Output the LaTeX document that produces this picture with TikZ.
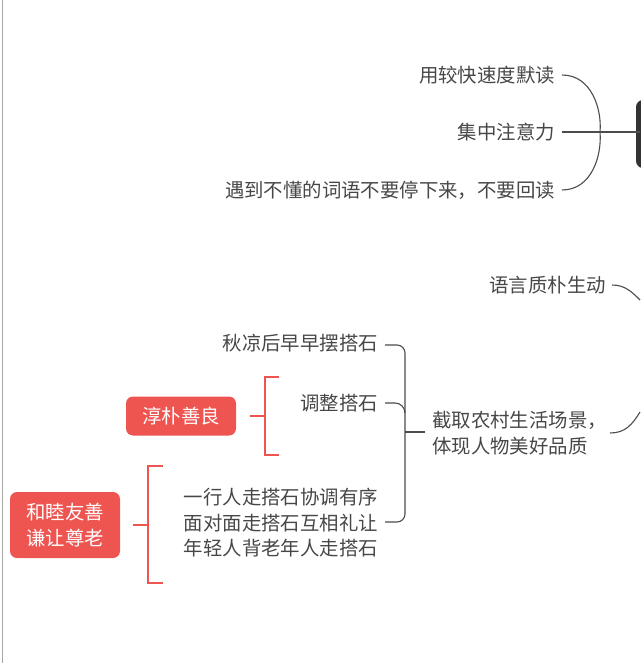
\documentclass[tikz,border=0pt]{standalone}
\usepackage{fontspec}
\setmainfont{Noto Sans CJK SC}
\begin{document}
\begin{tikzpicture}[x=1pt,y=-1pt,
  txt/.style={text=black!72,font=\fontsize{19.4}{22}\selectfont,inner sep=0pt},
  ln/.style={draw=black!70,line width=1.1pt},
  rl/.style={draw={rgb,255:red,238;green,84;blue,80},line width=2.2pt},
  rbox/.style={fill={rgb,255:red,238;green,84;blue,80},rounded corners=7pt,text=white,font=\fontsize{19.4}{26}\selectfont,align=center,inner sep=0pt}]
\useasboundingbox (0,0) rectangle (640,663);
\draw[black!35,line width=1pt] (2,0) -- (2,663);
% top group
\fill[black!80,rounded corners=7pt] (636,100) rectangle (660,168);
\node[txt,anchor=east] (a1) at (555,75) {用较快速度默读};
\node[txt,anchor=east] (a2) at (555,132) {集中注意力};
\node[txt,anchor=east] (a3) at (555,190) {遇到不懂的词语不要停下来，不要回读};
\coordinate (tj) at (600,132);
\coordinate (tr) at (640,132);
\draw[ln] (a1.east)++(7,0) .. controls (592,75) and (602,110) .. (tj);
\draw[ln] (a3.east)++(7,0) .. controls (592,190) and (602,155) .. (tj);
\draw[ln] (a2.east)++(7,0) -- (tr);
% right mid
\node[txt,anchor=east] (b1) at (606,285) {语言质朴生动};
\coordinate (b1r) at (640,300);
\draw[ln] (b1.east)++(6,0) .. controls (625,285) and (632,292) .. (b1r);
\node[txt,anchor=west,align=left,font=\fontsize{19.4}{26}\selectfont] (b2) at (432,433) {截取农村生活场景，\\体现人物美好品质};
\coordinate (b2r) at (640,412);
\draw[ln] (610,433) .. controls (625,433) and (632,425) .. (b2r);
% gray bracket
\node[txt,anchor=east] (c1) at (378,343) {秋凉后早早摆搭石};
\node[txt,anchor=east] (c2) at (378,403) {调整搭石};
\node[txt,anchor=east,align=right,font=\fontsize{19.4}{25.5}\selectfont] (c3) at (378,523) {一行人走搭石协调有序\\面对面走搭石互相礼让\\年轻人背老年人走搭石};
\draw[ln] (385,345) -- (397,345) to[out=0,in=90] (405,353) -- (405,514) to[out=-90,in=0] (397,522) -- (385,522);
\draw[ln] (385,403) -- (395,403) to[out=0,in=90] (405,413);
\draw[ln] (405,432) -- (425,432);
% red nodes
\node[rbox,minimum width=110pt,minimum height=39pt] (r1) at (181,416) {淳朴善良};
\draw[rl] (279,377) -- (265,377) -- (265,455) -- (279,455);
\draw[rl] (r1.east)++(14,0) -- (265,416);
\node[rbox,minimum width=110pt,minimum height=66pt] (r2) at (65,525) {和睦友善\\谦让尊老};
\draw[rl] (163,466) -- (148,466) -- (148,583) -- (163,583);
\draw[rl] (r2.east)++(13,0) -- (148,525);
\end{tikzpicture}
\end{document}
